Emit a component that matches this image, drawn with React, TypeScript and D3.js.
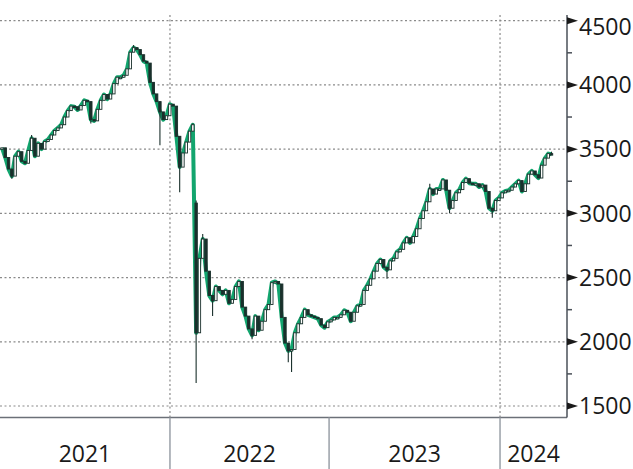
import React from "react";
import * as d3 from "d3";

// Weekly closes (index 0 = first week shown, early 2021)
const closes: number[] = [
  3510, 3435, 3345, 3290, 3445, 3480, 3405, 3390, 3490, 3585,
  3445, 3545, 3500, 3560, 3575, 3610, 3645, 3665, 3690, 3750,
  3800, 3835, 3830, 3805, 3840, 3880, 3870, 3730, 3720, 3810,
  3880, 3925, 3890, 3930, 4010, 4060, 4060, 4075, 4125, 4255,
  4290, 4275, 4235, 4185, 4170, 4020, 3930, 3870, 3790, 3730,
  3760, 3850, 3835, 3600, 3360, 3470, 3555, 3640, 3690, 2070,
  2650, 2800, 2550, 2360, 2320, 2430, 2400, 2370, 2400, 2300,
  2330, 2430, 2470, 2270, 2200, 2100, 2050, 2200, 2090, 2160,
  2250, 2290, 2460, 2470, 2450, 2190, 1990, 1930, 1940, 2070,
  2140, 2190, 2250, 2210, 2200, 2190, 2180, 2130, 2110, 2155,
  2170, 2190, 2190, 2210, 2245, 2230, 2160, 2230, 2280, 2290,
  2400, 2440, 2490, 2550, 2610, 2640, 2580, 2560, 2630, 2650,
  2700, 2720, 2770, 2810, 2770, 2820, 2880, 2960, 3020, 3090,
  3190, 3150, 3190, 3190, 3260, 3180, 3040, 3100, 3160, 3185,
  3240, 3270, 3235, 3230, 3230, 3205, 3220, 3170, 3040, 3020,
  3100, 3120, 3160, 3175, 3180, 3205, 3230, 3255, 3170, 3230,
  3305, 3330, 3300, 3275, 3375, 3430, 3465, 3460,
];

// Opens that differ from the previous close: [index, open]
const openGaps: [number, number][] = [[59, 3080]];

// Notable wicks: [index, high, low]
const wicks: [number, number, number][] = [
  [3, 3345, 3270],
  [9, 3610, 3490],
  [27, 3870, 3700],
  [40, 4310, 4255],
  [48, 3870, 3530],
  [54, 3600, 3165],
  [58, 3700, 3640],
  [59, 3100, 1680],
  [61, 2840, 2650],
  [64, 2360, 2200],
  [76, 2100, 2020],
  [87, 1990, 1840],
  [88, 1940, 1765],
  [117, 2580, 2490],
  [130, 3230, 3090],
  [136, 3180, 3000],
  [149, 3040, 2965],
  [167, 3480, 3460],
];

// Candle index at which each year begins
const yearBreaks: number[] = [51.05, 99.4, 151.35];
const yearLabels: string[] = ["2021", "2022", "2023", "2024"];
const gridYearBreaks: number[] = [51.05, 151.35];

const majorTicks: number[] = [1500, 2000, 2500, 3000, 3500, 4000, 4500];
const minorTicks: number[] = [1750, 2250, 2750, 3250, 3750, 4250];

const W = 633;
const H = 469;
const plotRight = 567;
const plotTop = 15;
const plotBottom = 417.5;

const GREEN = "#12a56e";
const DARK = "#1a302c";
const FONT = "'Open Sans', sans-serif";

export default function App() {
  const x = d3.scaleLinear().domain([-0.6, 171.7]).range([0, plotRight]);
  const y = d3.scaleLinear().domain([1500, 4500]).range([406, 20.7]);

  const opens = closes.map((c, i) => {
    const g = openGaps.find((d) => d[0] === i);
    if (g) return g[1];
    return i === 0 ? c : closes[i - 1];
  });
  const candles = closes.map((c, i) => {
    const o = opens[i];
    const w = wicks.find((d) => d[0] === i);
    const hi = Math.max(o, c, w ? w[1] : -Infinity);
    const lo = Math.min(o, c, w ? w[2] : Infinity);
    return { i, o, c, hi, lo };
  });

  const line = d3
    .line<number>()
    .x((_, i) => x(i))
    .y((d) => y(d));

  const bounds = [0, ...yearBreaks.map((b) => x(b)), plotRight];

  return (
    <div style={{ position: "fixed", left: 0, top: 0 }}>
      <svg width={W} height={H} style={{ display: "block", background: "#fff" }}>
        {/* horizontal grid */}
        {majorTicks.map((t) => (
          <line
            key={"g" + t}
            x1={0}
            x2={plotRight}
            y1={y(t)}
            y2={y(t)}
            stroke="#8a8a8a"
            strokeWidth={1.2}
            strokeDasharray="2 2.5"
          />
        ))}
        {/* vertical grid */}
        {gridYearBreaks.map((b) => (
          <line
            key={"v" + b}
            x1={x(b)}
            x2={x(b)}
            y1={plotTop}
            y2={plotBottom}
            stroke="#8a8a8a"
            strokeWidth={1.2}
            strokeDasharray="2 2.5"
          />
        ))}

        {/* close line */}
        <path d={line(closes) || ""} fill="none" stroke={GREEN} strokeWidth={4} strokeLinejoin="round" />

        {/* candles */}
        {candles.map((d) => {
          const cx = x(d.i);
          const top = y(Math.max(d.o, d.c));
          const bot = y(Math.min(d.o, d.c));
          const up = d.c >= d.o;
          return (
            <g key={"c" + d.i}>
              <line x1={cx} x2={cx} y1={y(d.hi)} y2={y(d.lo)} stroke={DARK} strokeWidth={1.1} />
              <rect
                x={cx - 1.2}
                y={top}
                width={2.4}
                height={Math.max(bot - top, 1.5)}
                fill={up ? "#ffffff" : DARK}
                stroke={DARK}
                strokeWidth={0.9}
              />
            </g>
          );
        })}

        {/* bottom axis line */}
        <line x1={0} x2={plotRight} y1={plotBottom} y2={plotBottom} stroke="#6b7078" strokeWidth={1.5} />
        {/* year separators */}
        {yearBreaks.map((b) => (
          <line key={"s" + b} x1={x(b)} x2={x(b)} y1={plotBottom} y2={H} stroke="#9aa0a8" strokeWidth={1.5} />
        ))}
        {/* year labels */}
        {yearLabels.map((lab, i) => (
          <text
            key={lab}
            x={(bounds[i] + bounds[i + 1]) / 2}
            y={462}
            textAnchor="middle"
            fontFamily={FONT}
            fontSize={23}
            fill="#1a1a1a"
          >
            {lab}
          </text>
        ))}

        {/* right axis */}
        <line x1={plotRight} x2={plotRight} y1={plotTop} y2={plotBottom} stroke="#4a5058" strokeWidth={1.5} />
        {minorTicks.map((t) => (
          <line key={"m" + t} x1={plotRight} x2={plotRight + 5} y1={y(t)} y2={y(t)} stroke="#4a5058" strokeWidth={1.5} />
        ))}
        {majorTicks.map((t) => (
          <path
            key={"a" + t}
            d={`M${plotRight},${y(t) - 3.5} L${plotRight + 11},${y(t)} L${plotRight},${y(t) + 3.5} Z`}
            fill="#1a1a1a"
          />
        ))}
        {majorTicks.map((t) => (
          <text
            key={"l" + t}
            x={579}
            y={Math.max(y(t), 26.7) + 8.2}
            fontFamily={FONT}
            fontSize={23}
            fill="#1a1a1a"
          >
            {t}
          </text>
        ))}
      </svg>
    </div>
  );
}
